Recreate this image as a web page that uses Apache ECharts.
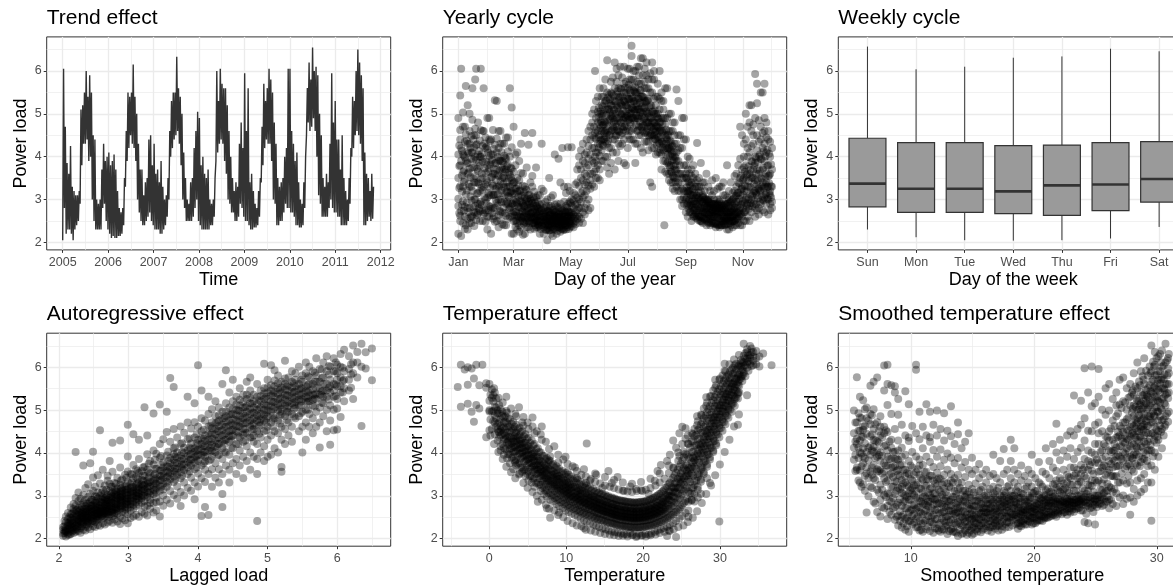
<!DOCTYPE html>
<html><head><meta charset="utf-8">
<script src="https://cdn.jsdelivr.net/npm/echarts@6/dist/echarts.min.js"></script>
<style>html,body{margin:0;padding:0;background:#fff}#c{width:1173px;height:587px}</style>
</head><body><div id="c"></div>
<script>
// ---------------- DATA ----------------
// Trend effect: fortnightly low / high of the daily load, from 2005-01-01
const trendStartYear = 2005;
const trendStepDays = 14;
const trendLow = [
2.05,2.8,2.2,2.3,2.3,2.2,2.05,2.3,2.4,2.5,2.9,3.8,4.3,4.3,4.4,3.9,4.0,3.0,2.5,2.3,2.3,2.3,2.3,2.8,2.9,2.5,
2.3,2.2,2.1,2.15,2.1,2.1,2.15,2.15,2.2,2.4,3.3,3.9,4.2,4.5,4.3,4.2,3.9,3.0,2.7,2.5,2.4,2.4,2.5,2.6,2.7,2.5,
2.4,2.3,2.3,2.3,2.2,2.2,2.3,2.4,2.6,3.0,4.0,4.2,4.4,4.5,4.6,4.3,3.8,3.0,2.8,2.5,2.5,2.5,2.5,2.6,2.8,3.0,
2.5,2.4,2.3,2.3,2.3,2.3,2.3,2.4,2.4,2.6,3.9,4.1,4.3,4.4,4.3,3.9,3.6,3.0,2.9,2.7,2.7,2.5,2.5,2.6,2.9,2.8,
2.6,2.5,2.5,2.4,2.3,2.3,2.35,2.35,2.4,2.6,3.4,3.8,4.2,4.4,4.3,4.3,3.9,3.0,2.9,2.4,2.4,2.5,2.5,2.7,2.9,2.8,
2.8,2.7,2.7,2.6,2.4,2.4,2.35,2.35,2.4,2.8,4.5,4.8,4.6,4.7,4.9,4.6,4.0,3.1,2.9,2.6,2.6,2.6,2.6,2.8,3.0,2.8,
2.7,2.7,2.6,2.6,2.4,2.4,2.4,2.4,2.5,2.9,4.0,4.2,4.5,4.6,4.5,4.3,3.9,2.4,2.4,2.5,2.6,2.5,2.55
];
const trendHigh = [
6.05,4.7,3.85,3.6,4.25,3.3,3.2,3.1,3.1,3.2,5.1,5.2,5.5,6.0,5.4,5.9,5.5,4.5,4.4,3.0,2.9,3.0,3.7,4.3,3.9,4.0,
4.1,3.8,3.9,4.05,3.7,3.2,2.8,2.7,2.8,3.5,4.6,5.5,5.4,5.5,6.15,5.4,5.0,4.3,3.7,3.7,3.1,3.4,3.5,4.4,4.5,3.8,
4.3,3.6,3.7,3.4,3.9,3.3,3.0,3.1,3.5,4.6,5.3,5.5,5.5,6.33,5.6,5.4,5.0,4.1,3.5,3.0,2.9,3.4,3.5,4.2,4.6,5.05,
4.9,3.8,4.0,3.6,3.5,3.7,3.0,2.9,3.0,3.5,6.0,5.3,6.05,5.7,5.6,5.6,5.2,4.6,4.0,3.5,3.2,3.4,3.3,4.3,4.8,4.2,
5.95,4.6,5.6,3.4,3.6,3.2,2.9,2.8,3.2,3.5,4.7,5.7,5.3,5.6,6.05,5.8,5.5,4.8,4.3,3.5,3.3,3.4,3.5,4.0,4.2,6.05,
6.05,4.6,4.3,3.9,4.1,3.4,3.0,2.9,3.4,4.0,5.6,6.2,5.8,6.55,6.0,6.1,5.9,5.0,4.5,3.5,3.3,3.6,3.4,4.3,5.95,4.8,
5.3,4.4,4.4,3.7,4.5,3.5,3.2,3.0,3.5,4.2,5.4,5.3,6.0,6.5,6.2,5.9,5.6,4.1,3.6,3.5,3.2,3.6,3.3
];

// Yearly cycle: [day of year, [loads...]]
const yearlyColumns = [
[1,[2.85,3.5,4.9,2.2,4.05,3.02]],[3,[5.43,2.5,4.4,3.8,2.62,3.31,4.62]],[4,[6.05,2.15,3.9,2.73,4.2]],[6,[4.05,3.3,2.45,4.7,2.96,3.64,5.03]],
[8,[4.7,2.6,3.47,2.31,3.98,4.35,2.83]],[9,[5.65,3.9,2.4,3.12,4.52]],[11,[5.2,3.6,2.3,4.3,2.8,3.85,4.12,2.55]],[13,[4.3,2.8,5.0,3.3,2.45,3.72,4.6]],
[15,[3.3,2.45,4.1,2.62,3.95,4.48,2.98]],[16,[5.6,4.1,2.6,3.75,3.2,4.86]],[18,[3.75,3.0,4.5,2.7,3.4,2.38,4.22]],[19,[5.8,3.0,4.0,3.55,2.85,4.65]],
[20,[6.05,4.5,2.7,3.4,3.92,2.52,4.27]],[22,[3.4,4.8,2.9,3.15,4.05,2.68,3.66]],[24,[2.9,4.0,3.2,2.5,4.38,3.78,2.73]],[25,[6.05,4.0,3.48,4.62,2.95]],
[27,[2.5,3.5,4.6,2.75,3.88,3.22,4.25]],[28,[5.6,4.6,3.3,2.66,3.95]],[30,[2.75,4.2,3.0,3.62,4.45,2.48,3.35]],[32,[2.3,3.8,4.9,2.6,3.4,4.18,3.05]],
[34,[4.9,2.6,4.4,3.1,3.72,2.85,4.02]],[36,[4.4,2.2,3.1,4.05,3.52,2.78,3.88]],[38,[3.1,4.05,2.8,3.6,4.62,2.55,3.32]],[40,[5.32,2.8,3.6,4.28,3.12,2.48,3.84]],
[42,[5.3,2.5,4.1,3.3,3.7,2.92,4.42]],[44,[3.3,2.35,4.6,3.0,3.9,2.64,4.2,3.55]],[46,[4.6,3.0,3.9,2.7,4.3,3.42,2.52]],[48,[3.9,2.7,4.3,3.5,3.15,2.42,3.7]],
[50,[4.3,3.5,2.4,3.7,2.95,4.02,3.28]],[52,[2.4,3.7,4.45,2.9,3.3,2.62,3.95]],[54,[4.45,2.9,3.3,3.82,2.55,3.08,4.12]],[56,[3.3,5.6,4.0,2.6,3.58,2.8,3.15]],
[58,[2.6,5.15,3.2,2.2,3.45,2.9,4.22,3.72]],[60,[2.2,4.7,3.4,2.5,2.98,3.65,2.72]],[62,[2.5,3.0,3.8,2.7,3.25,2.36,4.05]],[64,[2.3,3.5,4.1,2.9,2.62,3.18,2.45]],
[66,[2.4,3.2,2.6,3.9,2.82,3.45,2.25]],[68,[4.3,2.8,2.35,3.1,2.58,3.62,2.95]],[70,[2.6,3.6,2.5,2.9,3.32,2.72,2.18]],[72,[2.2,4.55,3.3,2.7,2.48,3.05,2.85]],
[74,[2.45,3.0,2.6,3.75,2.35,3.22,2.78]],[76,[2.35,2.8,2.5,3.1,2.65,4.28,2.95]],[78,[2.6,3.4,2.3,2.82,2.5,3.02,2.68]],[80,[4.55,3.3,2.7,2.45,2.92,2.58,3.55]],
[82,[2.45,3.0,2.6,2.32,2.78,3.18,2.52]],[84,[2.6,3.75,2.35,2.85,2.5,2.68,3.05]],[86,[2.35,2.8,2.5,3.1,2.62,2.42,2.95]],[88,[2.5,3.1,2.2,2.72,2.58,2.38,2.88]],
[90,[4.3,2.6,2.4,2.9,2.52,2.75,3.25]],[92,[2.6,2.2,3.2,2.45,2.8,2.35,2.68]],[94,[2.5,2.75,2.3,2.62,2.42,2.95,2.55]],[96,[2.3,2.05,3.0,2.55,2.72,2.4,2.48]],
[98,[2.55,2.4,2.7,3.5,2.28,2.62,2.85]],[100,[2.2,2.5,2.85,2.35,2.66,2.45,3.05]],[102,[2.6,2.15,3.1,2.45,2.52,2.75,2.3]],[104,[4.05,2.7,2.3,2.55,2.42,2.88,2.62]],
[106,[2.9,2.2,2.45,2.6,2.35,2.72,2.5]],[108,[3.95,2.65,2.35,2.8,2.5,2.42,2.58]],[110,[2.5,3.4,2.25,2.6,2.72,2.38,2.9]],[112,[2.6,4.2,2.4,2.75,2.52,2.32,2.65]],
[114,[2.75,3.3,2.5,2.3,2.6,2.95,2.44]],[116,[2.5,2.3,2.6,2.85,2.4,3.15,2.7]],[118,[4.22,2.6,2.4,2.9,2.55,2.72,3.3]],[120,[3.2,2.35,2.7,2.5,2.62,2.95,2.45]],
[122,[2.5,3.0,2.6,2.38,2.85,2.7,4.22]],[124,[2.45,2.8,2.65,3.15,2.55,2.98,2.35]],[126,[2.6,3.1,2.7,2.5,2.88,3.35,2.42]],[128,[2.75,3.4,2.55,3.05,2.62,2.9,3.7]],
[130,[2.6,3.0,3.8,2.45,3.32,2.8,4.0]],[132,[2.8,3.5,2.55,3.15,2.95,3.7,4.15]],[134,[2.45,3.2,3.9,2.7,3.45,3.05,4.3]],[136,[3.6,3.1,2.8,4.05,3.35,2.65,3.85]],
[138,[4.1,3.4,2.9,3.75,3.2,4.4,3.55]],[140,[4.6,3.0,3.8,3.32,3.95,4.25,2.75]],[142,[4.4,2.8,3.6,4.05,3.45,4.7,3.25]],[144,[5.0,3.6,4.2,3.9,4.5,3.35,4.8]],
[146,[4.2,3.3,4.7,3.85,4.45,5.1,3.65]],[147,[6.0,4.55,4.0]],[148,[3.9,5.3,4.1,3.5,4.42,3.72,4.62,4.9]],[150,[4.1,3.5,4.8,5.4,4.3,3.8,4.6,5.05]],
[152,[3.7,5.6,4.3,5.0,3.45,4.5,4.02,4.75]],[154,[5.0,4.6,5.4,3.9,4.4,4.8,4.15,5.2]],[156,[4.6,5.4,3.9,4.4,5.0,4.25,4.75,5.6]],[158,[5.8,4.8,4.0,5.1,4.35,4.6,5.3]],
[160,[6.25,4.8,4.0,5.1,4.55,5.5,4.3,3.75]],[162,[5.1,3.6,4.5,5.45,4.85,4.2,5.25]],[164,[5.5,4.2,4.95,3.85,5.2,4.6,5.75]],[166,[5.0,4.7,5.3,4.4,5.85,4.1,4.9]],
[168,[6.2,5.3,4.4,3.7,5.6,4.85,5.1,4.6]],[170,[4.9,4.1,5.2,5.75,4.5,5.45,4.7,6.05]],[172,[5.9,4.6,3.9,5.4,4.3,5.05,5.6]],[174,[5.0,5.6,4.5,5.25,4.8,6.1,4.25,5.4]],
[176,[5.4,4.3,5.0,5.85,4.7,5.2,4.55]],[178,[6.1,4.7,5.5,4.9,5.3,3.85,5.7,4.4]],[180,[5.5,3.8,4.9,5.2,4.6,5.75,5.05]],[182,[5.2,4.5,6.05,5.6,4.2,4.85,5.35,4.95]],
[184,[6.05,5.0,4.6,5.8,4.4,5.35,4.8,5.55]],[186,[6.59,5.0,4.6,5.8,6.35,4.4,5.35,4.9,5.15]],[188,[5.8,4.4,5.3,6.0,4.9,5.55,4.65,5.1]],[190,[5.3,6.0,3.85,4.9,5.5,4.3,5.62,5.1]],
[192,[4.9,5.5,4.3,6.1,5.1,4.6,5.75,5.25]],[194,[6.1,5.1,4.7,5.7,4.5,5.35,4.95,5.9]],[196,[4.7,5.7,4.5,6.3,5.4,4.2,5.05,5.55]],[198,[6.3,5.4,4.1,5.0,5.9,4.6,5.25,4.75]],
[200,[5.3,4.35,5.6,4.9,5.15,5.75,4.55,6.05]],[202,[5.9,4.6,5.3,4.35,5.6,4.8,5.05,6.2]],[204,[4.35,5.6,5.0,4.5,5.35,4.15,5.8,4.8]],[206,[3.4,4.9,5.2,4.5,5.5,4.7,5.95]],
[208,[6.2,4.5,3.3,5.5,4.8,4.2,5.8,5.05]],[210,[4.8,4.2,5.8,5.0,4.5,5.35,4.65,6.0]],[212,[5.0,4.4,5.4,4.7,4.05,5.2,4.6]],[214,[5.4,4.7,4.1,5.0,4.45,5.7,4.9]],
[216,[6.0,4.1,5.1,4.6,4.3,5.35,4.8]],[218,[4.6,3.7,5.3,4.35,4.9,4.05,5.5]],[220,[5.3,4.3,4.9,3.9,4.6,5.1,4.15]],[221,[2.4]],
[222,[4.9,3.9,5.6,4.5,4.2,4.75,3.65]],[224,[5.6,4.5,3.6,4.2,4.9,3.85,4.4]],[226,[3.6,4.2,5.0,3.8,4.6,3.45,4.35]],[228,[5.0,3.8,4.6,3.4,4.15,3.65,4.35]],
[230,[4.6,3.4,4.0,4.8,3.55,4.25,3.25]],[232,[4.0,4.8,3.5,4.3,3.7,3.2,4.5]],[234,[4.3,5.57,3.7,4.1,3.3,3.9,3.5]],[236,[5.3,3.9,4.5,3.2,3.6,4.15,3.4]],
[238,[4.5,3.2,3.6,4.2,3.0,3.8,3.35]],[240,[3.6,4.2,3.0,3.5,4.9,3.25,2.85]],[242,[3.5,4.9,2.9,3.8,3.2,4.4,3.05]],[244,[3.8,3.2,4.4,2.7,3.5,3.0,3.6]],
[246,[3.2,4.0,2.6,3.4,3.7,2.9,3.15]],[248,[3.6,3.0,2.85,3.35,3.95,2.7,3.2]],[250,[2.85,3.7,2.5,3.1,3.4,2.95,3.55]],[252,[3.1,2.75,3.5,2.9,3.25,2.6,3.8]],
[254,[3.4,2.9,3.3,2.65,3.05,3.6,2.8]],[256,[4.32,3.1,2.75,3.3,2.95,2.6,3.45]],[258,[2.9,3.3,2.6,3.05,3.5,2.75,3.15]],[260,[3.3,2.6,3.85,2.8,3.0,2.5,3.2]],
[262,[2.8,3.1,2.45,2.95,3.4,2.7,3.05]],[264,[3.4,2.7,3.0,2.55,2.85,3.2,2.65]],[266,[2.7,3.0,2.55,3.6,2.9,2.4,2.8]],[268,[3.0,2.55,2.85,3.3,2.65,2.95,2.45]],
[270,[2.55,2.85,3.2,2.7,2.4,3.0,2.8]],[272,[2.9,2.6,3.45,2.75,2.5,3.1,2.7]],[274,[2.7,3.2,2.45,2.9,2.6,2.8,3.0]],[276,[2.45,2.9,2.65,3.5,2.75,2.35,2.85]],
[278,[2.9,2.6,3.0,2.7,2.4,3.25,2.8]],[280,[3.0,2.35,2.8,2.55,3.3,2.7,2.95]],[282,[2.8,3.3,2.5,2.75,2.9,2.4,2.65]],[284,[2.5,2.75,3.1,2.6,2.85,2.45,3.4]],
[286,[2.75,3.1,2.4,2.9,2.6,2.8,2.5]],[288,[3.8,2.6,2.9,2.3,2.7,3.05,2.55]],[290,[2.3,3.0,2.7,2.85,2.5,2.65,3.2]],[292,[2.7,3.4,2.5,2.95,2.4,2.8,2.6]],
[294,[2.5,2.85,3.15,2.35,2.7,2.6,3.0]],[296,[3.2,2.65,2.5,2.9,3.55,2.4,2.8]],[298,[3.6,2.4,2.95,2.7,3.3,2.55,3.1]],[300,[2.95,3.4,2.55,3.8,2.7,3.15,2.45]],
[302,[4.7,3.1,2.8,2.4,3.5,2.65,3.95]],[304,[3.3,2.6,3.7,4.5,2.9,2.4,3.25]],[306,[3.5,4.0,2.7,3.2,2.5,3.75,4.3]],[308,[4.4,2.5,3.8,5.0,3.0,3.45,2.75]],
[310,[4.2,2.6,3.6,2.9,3.3,4.0,4.7]],[312,[4.8,3.3,2.5,4.1,3.6,2.85,5.2]],[314,[5.2,3.0,3.9,4.6,2.7,3.5,4.25]],[316,[4.5,3.5,4.3,2.9,3.7,4.75,3.15]],
[318,[5.93,4.9,2.6,3.2,4.0,3.45,2.8,3.85]],[320,[5.7,5.25,3.1,4.5,3.7,2.75,4.15,3.35]],[322,[4.0,2.8,3.6,4.85,3.25,2.65,4.35]],[324,[5.5,3.5,4.4,2.9,3.95,3.2,4.7]],
[326,[5.5,4.2,3.0,3.7,2.75,4.55,3.4]],[328,[5.7,4.6,2.7,3.9,3.3,4.3,3.05,4.9]],[330,[4.8,3.4,4.1,2.9,3.6,4.45,3.15]],[332,[4.4,3.0,3.8,2.65,4.6,3.3,3.55]],
[334,[3.2,4.0,2.9,3.6,4.35,3.1,2.75]],[336,[2.8,4.2,3.3,3.7,2.95]]
];
const yearlyColumnsB = [
[2,[3.27,3.78,2.68,4.26]],[5,[3.56,2.88,4.14,3.19]],[7,[4.02,3.41,2.74,3.67]],[10,[3.21,4.37,2.93,3.84]],[12,[3.63,2.71,4.08,3.36]],
[14,[4.21,3.07,3.52,2.58]],[17,[3.49,3.93,2.82,4.4]],[21,[3.14,3.72,4.29,2.64]],[23,[3.86,2.79,3.37,4.13]],[26,[3.28,4.06,2.87,3.61]],
[29,[3.73,3.05,4.31,2.69]],[31,[3.45,2.92,3.88,4.24]],[33,[3.16,3.64,2.75,4.09]],[35,[3.82,3.27,4.36,2.83]],[37,[3.37,2.68,3.93,3.54]],
[39,[3.72,3.11,4.18,2.61]],[41,[3.25,3.85,2.97,3.46]],[43,[3.58,2.86,3.99,3.12]],[45,[3.92,3.33,2.73,3.68]],[47,[3.21,3.74,2.94,4.11]],
[49,[3.53,2.81,3.36,3.86]],[51,[3.12,3.64,2.68,3.97]],[53,[3.41,2.95,3.78,3.18]],[55,[3.63,3.06,2.77,3.49]],[57,[3.18,2.83,3.52,3.74]],
[59,[2.91,3.36,2.68,3.14]],[61,[2.87,3.14,2.63,3.41]],[63,[2.71,3.26,2.94,2.52]],[65,[3.07,2.58,2.83,3.33]],[67,[2.66,2.98,3.21,2.49]],
[69,[2.92,2.73,3.08,2.56]],[71,[2.61,3.17,2.84,2.44]],[73,[2.96,2.68,2.52,3.24]],[75,[2.74,3.03,2.57,2.88]],[77,[2.63,2.91,2.46,3.12]],
[79,[2.82,2.58,2.97,2.68]],[81,[2.69,2.45,2.86,3.06]],[83,[2.55,2.77,2.4,2.93]],[85,[2.71,2.51,2.84,2.62]],[87,[2.46,2.67,2.78,2.39]],
[89,[2.47,2.63,2.31,2.79]],[93,[2.52,2.38,2.71,2.59]],[95,[2.66,2.29,2.47,2.84]],[97,[2.41,2.57,2.73,2.34]],[99,[2.63,2.49,2.28,2.8]],
[101,[2.37,2.69,2.54,2.45]],[103,[2.58,2.33,2.76,2.64]],[105,[2.46,2.71,2.39,2.56]],[107,[2.61,2.27,2.5,2.83]],[109,[2.43,2.66,2.58,2.35]],
[111,[2.55,2.32,2.79,2.47]],[113,[2.68,2.44,2.53,2.29]],[115,[2.39,2.61,2.72,2.5]],[117,[2.57,2.36,2.46,2.81]],[119,[2.48,2.7,2.31,2.62]],
[121,[2.66,2.43,2.55,2.92]],[151,[4.46,4.92,4.21,5.14]],[153,[4.67,5.06,4.38,4.84]],[155,[4.73,4.28,5.17,4.95]],[157,[4.55,5.24,4.82,4.41]],
[159,[4.97,4.63,5.31,4.46]],[161,[4.71,5.12,4.36,5.38]],[163,[4.88,5.34,4.52,5.03]],[165,[4.62,5.19,4.94,5.47]],[167,[5.09,4.67,5.42,4.81]],
[169,[4.76,5.28,5.01,4.49]],[171,[5.14,4.83,5.53,4.62]],[173,[4.91,5.37,4.58,5.18]],[175,[5.22,4.79,5.58,4.98]],[177,[4.86,5.31,5.07,4.63]],
[179,[5.27,4.92,5.61,4.71]],[181,[4.97,5.43,5.16,4.68]],[183,[5.34,4.86,5.68,5.11]],[185,[5.02,5.49,4.77,5.26]],[187,[5.38,4.91,5.64,5.13]],
[189,[5.07,5.52,4.83,5.29]],[191,[5.18,4.74,5.47,4.96]],[193,[4.89,5.36,5.12,4.61]],[195,[5.26,4.82,5.55,5.03]],[197,[4.93,5.41,4.68,5.17]],
[199,[5.13,4.72,5.39,4.88]],[201,[4.84,5.27,4.57,5.06]],[203,[5.02,4.66,5.31,4.79]],[205,[4.71,5.16,4.47,4.94]],[207,[4.91,4.53,5.19,4.69]],
[209,[4.62,5.05,4.38,4.83]],[211,[4.79,4.41,5.08,4.57]],[213,[4.51,4.93,4.27,4.72]],[215,[4.68,4.33,4.89,4.46]],[217,[4.41,4.81,4.16,4.62]],
[219,[4.57,4.22,4.76,4.35]],[223,[4.31,4.63,4.04,4.45]],[225,[4.19,3.88,4.51,4.06]],[227,[4.02,4.37,3.76,4.18]],[229,[3.91,4.24,3.63,4.06]],
[231,[3.79,4.11,3.52,3.93]],[233,[3.67,3.98,3.41,3.81]],[245,[3.28,3.05,3.51,2.87]],[247,[3.19,2.96,3.42,2.78]],[249,[3.11,2.88,3.33,2.71]],
[251,[3.02,2.81,3.24,2.66]],[253,[2.96,2.75,3.16,2.61]],[255,[2.89,2.69,3.09,2.57]],[257,[2.84,2.64,3.03,2.53]],[259,[2.79,2.61,2.98,2.5]],
[261,[2.75,2.58,2.94,2.48]],[263,[2.91,2.55,2.72,3.06]],[265,[2.69,2.86,2.52,3.01]],[267,[2.83,2.66,2.49,2.97]],[269,[2.64,2.8,2.47,2.93]],
[271,[2.78,2.62,2.45,2.91]],[273,[2.61,2.76,2.44,2.89]],[275,[2.75,2.59,2.43,2.88]],[277,[2.58,2.74,2.42,2.87]],[279,[2.73,2.57,2.41,2.86]],
[281,[2.56,2.72,2.4,2.86]],[283,[2.71,2.56,2.4,2.86]],[285,[2.56,2.71,2.41,2.87]],[287,[2.71,2.55,2.42,2.88]],[289,[2.57,2.72,2.43,2.9]],
[291,[2.73,2.58,2.45,2.93]],[293,[2.6,2.75,2.47,2.97]],[295,[2.77,2.62,2.5,3.02]],[297,[2.66,2.81,2.53,3.08]],[299,[2.85,2.7,2.57,3.15]],
[301,[3.02,2.74,3.38,2.61]],[303,[2.88,3.24,2.67,3.56]],[305,[3.11,2.79,3.47,2.96]],[307,[2.93,3.32,2.71,3.65]],[309,[3.19,2.86,3.58,3.04]],
[311,[3.01,3.43,2.78,3.77]],[313,[3.28,2.92,3.69,3.12]],[315,[3.09,3.52,2.84,3.88]],[317,[3.36,2.98,3.79,3.19]],[319,[3.15,3.61,2.89,3.97]],
[321,[3.43,3.03,3.87,3.26]],[323,[3.21,3.68,2.94,4.05]],[325,[3.49,3.08,3.94,3.31]],[327,[3.26,3.74,2.98,4.12]],[329,[3.53,3.11,4.01,3.35]],
[331,[3.29,3.78,3.02,4.16]],[333,[3.56,3.14,4.07,3.38]],[335,[3.31,3.82,3.05]]
];

// Weekly cycle box statistics
const weekDays = ['Sun','Mon','Tue','Wed','Thu','Fri','Sat'];
const boxMin    = [2.30,2.12,2.05,2.04,2.05,2.09,2.36];
const boxQ1     = [2.83,2.70,2.70,2.67,2.63,2.74,2.94];
const boxMedian = [3.37,3.25,3.25,3.19,3.33,3.35,3.48];
const boxQ3     = [4.43,4.33,4.33,4.26,4.27,4.33,4.35];
const boxMax    = [6.57,6.04,6.10,6.31,6.34,6.52,6.46];

// Autoregressive effect: [lagged load, [loads...]]
const arColumns = [
[2.06,[2.07,2.12,2.21,2.27]],[2.1,[2.05,2.16,2.24,2.38,2.52,2.19]],[2.13,[2.09,2.22,2.31,2.46,2.6,2.14,2.36]],
[2.17,[2.11,2.19,2.28,2.41,2.57,2.73,2.33,2.49]],[2.21,[2.13,2.26,2.35,2.44,2.62,2.81,2.2,2.52,2.69]],
[2.24,[2.16,2.23,2.39,2.5,2.58,2.77,2.95,4.02,2.31,2.66]],[2.28,[2.18,2.29,2.37,2.46,2.63,2.71,2.88,3.08,2.55,2.42]],
[2.31,[2.14,2.25,2.4,2.53,2.6,2.79,2.93,2.34,2.67,2.48]],[2.35,[2.21,2.33,2.45,2.57,2.68,2.84,3.02,3.71,2.5,2.39,2.62]],
[2.38,[2.19,2.28,2.43,2.55,2.64,2.76,2.9,3.18,2.49,2.7]],[2.42,[2.26,2.37,2.48,2.59,2.73,2.82,2.97,3.27,2.53,2.66,2.41]],
[2.45,[2.22,2.35,2.51,2.62,2.69,2.86,3.05,3.76,2.44,2.77,2.58]],[2.49,[2.29,2.41,2.55,2.64,2.78,2.91,3.12,3.43,4.03,2.47,2.71]],
[2.52,[2.27,2.39,2.47,2.6,2.74,2.83,2.99,3.21,2.56,2.68,2.88]],[2.56,[2.32,2.44,2.57,2.66,2.8,2.94,3.08,3.48,2.52,2.72,2.61]],
[2.59,[2.3,2.49,2.61,2.7,2.85,3.01,3.29,4.53,2.57,2.77,2.66]],[2.63,[2.36,2.47,2.58,2.73,2.83,2.97,3.14,3.61,2.65,2.9,2.54]],
[2.66,[2.33,2.52,2.64,2.76,2.88,3.06,3.24,2.7,2.59,2.81,2.95]],[2.7,[2.38,2.5,2.62,2.79,2.9,3.02,3.35,3.47,2.68,2.74,2.86,2.57]],
[2.73,[2.42,2.56,2.69,2.82,2.96,3.11,3.28,2.63,2.77,2.89,3.81]],[2.77,[2.37,2.53,2.67,2.84,2.93,3.08,3.21,3.56,2.72,2.99,2.61,4.24]],
[2.8,[2.45,2.6,2.73,2.81,2.97,3.13,3.3,2.68,2.88,3.04,2.55]],[2.84,[2.4,2.58,2.71,2.87,3.0,3.17,3.42,2.79,2.93,2.65,3.09]],
[2.88,[2.34,2.52,2.69,2.83,2.95,3.1,3.26,3.66,4.29,2.76,3.02,2.9]],[2.91,[2.47,2.63,2.78,2.92,3.04,3.19,3.38,2.71,2.86,2.99,3.12]],
[2.95,[2.43,2.61,2.74,2.89,3.06,3.22,3.49,2.8,2.96,3.14,2.68]],[2.99,[2.36,2.57,2.72,2.86,3.01,3.16,3.33,3.57,3.92,4.66,2.93,3.08,2.79]],
[3.03,[2.48,2.66,2.81,2.94,3.09,3.27,3.51,2.74,3.03,3.18,2.89]],[3.07,[2.52,2.7,2.87,3.05,3.2,3.41,3.72,2.96,3.12,2.79,4.44]],
[3.11,[2.56,2.76,2.93,3.07,3.25,3.44,3.62,2.85,3.15,3.0]],[3.15,[2.51,2.79,2.98,3.13,3.31,3.53,3.86,4.31,2.9,3.21,3.05]],
[3.19,[2.62,2.84,3.02,3.19,3.37,3.58,2.95,3.11,3.27]],[3.23,[2.58,2.88,3.07,3.26,3.46,3.68,5.07,3.0,3.16,2.75]],
[3.27,[2.54,2.77,2.97,3.18,3.36,3.61,3.97,4.41,3.09,3.28]],[3.31,[2.7,2.91,3.1,3.32,3.52,3.81,3.02,3.22,2.83]],
[3.36,[2.61,2.83,3.04,3.24,3.47,3.73,4.06,4.92,3.14,3.35]],[3.4,[2.66,2.96,3.19,3.41,3.63,3.98,3.08,3.29,2.85]],
[3.45,[2.52,2.87,3.12,3.36,3.59,3.89,4.21,5.13,3.24,3.47]],[3.5,[2.77,3.01,3.29,3.53,3.78,4.32,3.15,3.42,3.66]],
[3.55,[2.91,3.21,3.44,3.69,3.94,4.49,4.96,3.33,3.58]],[3.6,[2.82,3.11,3.39,3.64,3.88,4.26,5.75,3.52,3.76]],
[3.65,[3.02,3.32,3.58,3.84,4.11,4.56,5.54,3.45,3.71,3.97]],[3.7,[2.93,3.22,3.49,3.76,4.01,4.36,3.63,3.89]],
[3.75,[3.09,3.41,3.68,3.94,4.21,4.62,2.76,3.55,3.81]],[3.8,[3.01,3.31,3.6,3.86,4.12,4.47,3.73,4.0]],
[3.85,[3.19,3.51,3.79,4.06,4.32,4.71,5.31,3.66,3.93]],[3.9,[3.12,3.42,3.71,3.97,4.22,4.57,3.85,4.1]],
[3.95,[2.92,3.31,3.62,3.9,4.11,4.36,4.72,5.16,3.78,4.03]],[4.0,[3.22,3.52,3.81,4.07,4.31,4.61,6.05,3.95,4.19]],
[4.05,[2.53,3.41,3.71,3.96,4.21,4.51,4.81,5.46,4.09,4.34]],[4.1,[2.74,3.32,3.61,3.91,4.16,4.41,4.76,4.02,4.28,3.8]],
[4.15,[2.55,3.51,3.82,4.06,4.31,4.62,4.91,5.31,4.19,4.45]],[4.2,[3.21,3.62,3.92,4.19,4.46,4.71,5.02,4.33,4.58,4.05]],
[4.25,[3.42,3.76,4.02,4.29,4.56,4.86,5.21,4.43,4.69,4.15]],[4.3,[3.31,3.62,3.96,4.21,4.51,4.76,5.06,4.36,4.63,4.88]],
[4.35,[2.74,3.04,3.51,3.86,4.11,4.41,4.66,4.96,5.61,4.27,4.53,4.8]],[4.4,[3.71,4.01,4.31,4.61,4.86,5.16,5.93,4.46,4.73,4.97]],
[4.45,[3.31,3.61,3.96,4.26,4.51,4.76,5.06,5.41,4.39,4.64,4.89]],[4.5,[3.76,4.11,4.41,4.66,4.91,5.21,5.71,4.54,4.79,5.03]],
[4.55,[3.51,3.86,4.21,4.51,4.76,5.01,5.31,4.63,4.88,5.13]],[4.6,[3.71,4.06,4.36,4.61,4.86,5.11,5.51,4.73,4.98,5.24]],
[4.65,[3.41,3.91,4.26,4.56,4.81,5.06,5.36,4.69,4.93,5.19,4.43]],[4.7,[3.81,4.16,4.46,4.71,4.96,5.26,5.66,4.83,5.09,5.36]],
[4.75,[3.61,4.01,4.36,4.61,4.91,5.16,5.46,5.76,4.76,5.03,5.29]],[4.8,[3.91,4.26,4.56,4.81,5.06,5.36,4.69,4.94,5.21,4.41]],
[4.85,[2.41,3.51,3.86,4.21,4.51,4.76,5.01,5.31,5.61,4.88,5.14]],[4.9,[4.01,4.36,4.66,4.91,5.21,5.46,4.79,5.06,5.33]],
[4.95,[3.81,4.16,4.51,4.76,5.01,5.26,5.51,6.08,4.89,5.14,5.39]],[5.0,[3.91,4.31,4.61,4.86,5.11,5.41,5.71,4.99,5.26,5.53]],
[5.05,[3.96,4.41,4.71,4.96,5.21,5.46,6.05,5.09,5.34,5.58]],[5.1,[4.11,4.51,4.81,5.06,5.31,5.56,5.93,5.19,5.43,5.69]],
[5.15,[4.01,4.46,4.76,5.01,5.26,5.51,5.81,5.14,5.38,5.63]],[5.2,[3.56,3.67,4.31,4.61,4.91,5.16,5.41,5.66,5.03,5.29,5.53]],
[5.25,[4.21,4.56,4.86,5.11,5.36,5.61,6.15,5.24,5.48,5.74]],[5.3,[4.41,4.71,4.96,5.21,5.46,5.76,5.09,5.34,5.58]],
[5.35,[4.26,4.61,4.91,5.16,5.41,5.66,5.91,5.29,5.53]],[5.4,[4.81,5.06,5.31,5.56,5.86,5.19,5.44,5.71]],
[5.45,[4.51,4.86,5.11,5.36,5.61,6.01,5.24,5.49]],[5.5,[4.01,4.61,4.96,5.26,5.51,5.81,5.39,5.66]],
[5.55,[4.31,4.71,5.01,5.31,5.56,5.86,6.11,5.19,5.44]],[5.6,[4.61,4.91,5.21,5.46,5.76,6.01,5.34,5.61]],
[5.65,[4.46,4.81,5.11,5.36,5.61,5.91,5.24,5.49]],[5.7,[4.61,4.96,5.26,5.51,5.81,6.21,5.39,5.66]],
[5.75,[4.13,4.71,5.06,5.36,5.66,5.96,5.51]],[5.8,[4.86,5.16,5.46,5.76,6.11,5.31,5.61]],
[5.85,[4.51,5.01,5.31,5.61,5.91,6.26,5.46]],[5.9,[4.19,4.76,5.11,5.41,5.71,6.01,5.56]],
[5.95,[4.53,5.01,5.31,5.61,5.91,6.21,5.46]],[6.0,[4.55,5.04,5.26,5.56,5.86,6.06,5.71]],
[6.05,[4.84,5.41,5.76,6.01,6.31,5.56]],[6.1,[5.21,5.51,5.91,6.41,5.71]],[6.17,[5.46,5.71,5.96,6.26]],
[6.23,[5.26,5.86,6.51,6.11]],[6.29,[5.76,6.11,6.36]],[6.35,[4.63,6.55,6.01]],[6.41,[5.97,6.35]],[6.5,[6.44,5.7]]
];
const arColumnsB = [
[2.08,[2.13,2.29,2.18,2.41]],[2.15,[2.09,2.37,2.22,2.5,2.31]],[2.19,[2.44,2.17,2.36,2.58,2.26]],[2.26,[2.21,2.53,2.34,2.67,2.45,2.28]],
[2.33,[2.61,2.29,2.49,2.74,2.38,2.56]],[2.4,[2.33,2.69,2.51,2.82,2.44,2.62,2.39]],[2.47,[2.77,2.41,2.6,2.91,2.52,2.69]],
[2.54,[2.45,2.84,2.66,2.98,2.57,2.76,2.52]],[2.61,[2.92,2.53,2.73,3.07,2.64,2.84]],[2.68,[2.58,2.97,2.79,3.14,2.7,2.9,2.63]],
[2.75,[3.04,2.64,2.85,3.21,2.76,2.96]],[2.82,[2.69,3.1,2.91,3.28,2.82,3.02,2.74]],[2.89,[3.17,2.75,2.97,3.35,2.88,3.08]],
[2.97,[2.81,3.23,3.03,3.42,2.94,3.14,2.86]],[3.05,[3.31,2.87,3.1,3.5,3.01,3.21]],[3.13,[2.94,3.39,3.17,3.58,3.08,3.28,2.99]],
[3.21,[3.47,3.0,3.24,3.66,3.15,3.35]],[3.29,[3.07,3.55,3.31,3.75,3.22,3.43]],[3.38,[3.63,3.13,3.38,3.84,3.29,3.51]],
[3.47,[3.21,3.72,3.46,3.93,3.37,3.59]],[3.57,[3.82,3.29,3.55,4.03,3.46,3.68]],[3.67,[3.38,3.92,3.64,4.13,3.55,3.77]],
[3.77,[4.02,3.47,3.73,4.23,3.64,3.86]],[3.88,[3.57,4.13,3.84,4.34,3.75,3.97]],[3.98,[4.23,3.66,3.93,4.44,3.84,4.06]],
[4.08,[3.76,4.33,4.03,4.54,3.94,4.16]],[4.18,[4.43,3.85,4.12,4.63,4.03,4.26]],[4.28,[3.94,4.52,4.21,4.72,4.12,4.35]],
[4.38,[4.61,4.03,4.3,4.81,4.21,4.44]],[4.48,[4.12,4.7,4.39,4.9,4.3,4.53]],[4.58,[4.79,4.21,4.48,4.99,4.39,4.62]],
[4.68,[4.29,4.87,4.56,5.07,4.47,4.7]],[4.78,[4.95,4.37,4.64,5.15,4.55,4.78]],[4.88,[4.45,5.03,4.72,5.23,4.63,4.86]],
[4.98,[5.11,4.53,4.8,5.31,4.71,4.94]],[5.08,[4.61,5.19,4.88,5.39,4.79,5.02]],[5.18,[5.27,4.69,4.96,5.47,4.87,5.1]],
[5.28,[4.77,5.35,5.04,5.55,4.95,5.18]],[5.38,[5.43,4.85,5.12,5.63,5.03,5.26]],[5.48,[4.93,5.51,5.2,5.71,5.11,5.34]],
[5.58,[5.59,5.01,5.28,5.79,5.19,5.42]],[5.68,[5.09,5.67,5.36,5.87,5.27]],[5.78,[5.75,5.17,5.44,5.95,5.35]],
[5.88,[5.25,5.83,5.52,6.03]],[5.98,[5.91,5.33,5.6,6.11]],[6.08,[5.41,5.99,5.68]],[6.2,[6.07,5.52,5.83]]
];

// Temperature effect: [temperature, [loads...]]
const tempColumns = [
[-4.1,[5.54]],[-3.7,[6.06,5.08]],[-3.2,[5.95]],[-2.8,[5.15,5.59,6.0]],[-2.3,[5.97,4.96]],[-2.0,[5.74,4.73]],[-1.7,[6.06,5.12]],
[-1.3,[5.58,5.04]],[-0.9,[6.06]],[-0.4,[5.63,4.37,5.52]],[0.02,[4.53,5.0,5.22,4.97,5.61]],[0.33,[5.48,5.29,4.56,4.97]],
[0.71,[5.41,5.08,4.88,4.44,4.71]],[1.08,[4.55,4.93,4.68,4.29,4.99]],[1.47,[4.41,4.79,4.53,4.16,5.02,4.06,4.62]],
[1.89,[4.6,4.31,4.12,4.84,4.47,3.96,4.71]],[2.31,[4.69,4.48,4.24,4.04,3.87,4.94,4.36]],[2.68,[4.38,4.19,4.61,3.96,4.79,3.76,4.09,4.51]],
[3.12,[4.33,4.14,4.56,3.91,4.73,3.62,4.27,4.02]],[3.49,[4.29,4.04,4.48,3.84,4.66,3.71,4.19,4.86,4.37]],[3.93,[4.21,3.99,4.41,3.76,4.59,3.52,4.11,4.31]],
[4.28,[4.12,3.91,4.33,3.66,4.51,3.56,4.02,4.71,4.22]],[4.71,[4.03,3.81,4.24,3.61,4.44,3.46,3.94,4.13]],[5.09,[3.96,3.76,4.16,3.56,4.36,3.36,3.86,4.56,4.07]],
[5.52,[3.87,3.66,4.06,3.46,4.29,3.31,3.76,3.97]],[5.88,[3.81,3.61,4.01,3.41,4.21,3.21,3.71,4.46,3.91]],[6.31,[3.72,3.52,3.91,3.31,4.11,2.86,3.61,3.82]],
[6.69,[3.62,3.46,3.81,3.26,4.01,3.11,3.56,4.43,3.71]],[7.12,[3.57,3.39,3.74,3.21,3.93,3.04,3.48,3.65]],[7.48,[3.52,3.33,3.69,3.14,3.88,2.98,3.41,2.71,3.6]],
[7.91,[3.46,3.26,3.62,3.08,3.81,2.91,2.49,3.92,3.35]],[8.29,[3.41,3.22,3.57,3.03,3.74,2.87,3.31,3.49]],[8.72,[3.36,3.16,3.52,2.98,3.69,2.81,3.25,3.44]],
[9.08,[3.31,3.11,3.46,2.93,3.63,2.76,3.21,2.61,3.39]],[9.53,[3.24,3.06,3.41,2.89,3.58,2.71,3.15,3.31]],[9.91,[3.19,3.01,3.35,2.84,3.53,2.66,3.11,3.91,3.26]],
[10.32,[3.15,2.96,3.31,2.8,3.49,2.62,3.06,3.22]],[10.69,[3.11,2.92,3.27,2.76,3.45,2.58,3.01,3.18]],[11.13,[3.06,2.88,3.22,2.72,3.41,2.55,3.66,2.97]],
[11.52,[3.02,2.84,3.18,2.68,3.37,2.51,2.94,3.1]],[11.88,[2.98,2.8,3.14,2.64,3.32,2.47,2.9,3.05]],[12.31,[2.94,2.76,3.1,2.61,3.27,2.43,2.86,3.62,2.25]],
[12.67,[2.91,2.73,3.07,2.58,3.24,2.4,4.22,2.99,2.82]],[13.09,[2.87,2.69,3.03,2.55,3.2,2.36,2.79,3.36,2.95]],[13.52,[2.83,2.66,2.99,2.52,3.16,2.33,2.75,2.91]],
[13.91,[2.8,2.63,2.96,2.49,3.12,2.3,2.72,3.49,2.87]],[14.28,[2.77,2.6,2.93,2.46,3.08,2.27,2.69,2.84]],[14.71,[2.74,2.58,2.9,2.43,3.05,2.24,2.66,3.18,2.81]],
[15.12,[2.71,2.55,2.87,2.41,3.02,2.22,2.63,2.78]],[15.49,[2.69,2.53,2.84,2.38,2.99,2.19,2.61,3.58,2.76]],[15.93,[2.66,2.51,2.81,2.36,2.96,2.17,2.58,3.3,2.73]],
[16.31,[2.64,2.49,2.79,2.34,2.94,2.15,2.56,2.71]],[16.68,[2.62,2.47,2.77,2.32,2.91,2.14,2.54,3.44,2.69]],[17.11,[2.61,2.45,2.75,2.3,2.89,2.12,2.52,2.67]],
[17.52,[2.59,2.44,2.73,2.29,2.88,2.11,2.51,3.12,2.66]],[17.89,[2.58,2.43,2.72,2.28,2.86,2.1,2.5,2.65]],[18.32,[2.57,2.42,2.71,2.27,2.85,2.13,2.49,3.22,2.64]],
[18.71,[2.56,2.41,2.7,2.26,2.84,2.09,2.48,2.63]],[19.09,[2.56,2.41,2.7,2.26,2.84,2.04,2.48,3.16,2.63]],[19.48,[2.56,2.41,2.7,2.26,2.85,2.12,2.48,2.63]],
[19.91,[2.57,2.42,2.71,2.27,2.86,2.08,2.49,3.11,2.64]],[20.29,[2.58,2.43,2.72,2.28,2.87,2.11,2.5,2.65]],[20.72,[2.6,2.44,2.74,2.29,2.89,2.1,2.52,3.05,2.67]],
[21.09,[2.62,2.46,2.77,2.31,2.92,2.12,2.54,2.69]],[21.52,[2.65,2.49,2.8,2.33,2.96,2.16,2.57,3.35,2.72]],[21.88,[2.68,2.52,2.84,2.36,3.01,2.19,2.6,3.58,2.76]],
[22.31,[2.72,2.55,2.89,2.39,3.06,2.22,2.64,3.72,2.8]],[22.69,[2.77,2.59,2.95,2.43,3.13,2.25,2.68,2.86]],[23.12,[2.83,2.64,3.02,2.47,3.21,2.28,3.81,2.06,2.93]],
[23.48,[2.9,2.7,3.1,2.52,3.3,2.32,3.96,2.18,3.0]],[23.91,[2.99,2.77,3.2,2.57,3.42,2.36,4.29,3.66,3.09]],[24.29,[3.09,2.85,3.31,2.63,3.54,2.41,4.12,2.04,3.2]],
[24.72,[3.2,2.94,3.44,2.7,3.68,2.47,3.93,4.46,3.32]],[25.09,[3.32,3.04,3.58,2.78,3.83,2.53,4.21,4.61,3.45]],[25.52,[3.46,3.16,3.73,2.88,3.98,2.6,4.33,4.58,3.6]],
[25.89,[3.38,3.1,3.65,2.86,3.9,2.66,4.21,2.51,3.52]],[26.31,[3.52,3.19,3.79,2.89,4.02,3.06,4.27,2.91,3.67,4.46]],
[26.68,[3.68,3.35,3.94,3.04,4.17,3.25,4.39,2.87,3.83,4.56]],[27.11,[3.84,3.51,4.09,3.21,4.32,3.44,4.53,3.14,3.99,4.74,2.96]],
[27.52,[4.0,3.68,4.24,3.38,4.47,3.61,4.67,3.33,4.15,4.89,3.05]],[27.89,[4.16,3.85,4.39,3.56,4.61,3.78,4.81,3.51,4.31,5.04,4.0]],
[28.31,[4.32,4.02,4.54,3.73,4.75,3.95,4.95,3.68,4.46,5.18,4.17,3.41]],[28.69,[4.47,4.18,4.69,3.9,4.89,4.11,5.09,3.85,4.62,5.32,4.35,3.3]],
[29.12,[4.62,4.34,4.84,4.06,5.03,4.27,5.23,4.02,4.77,5.46,4.51]],[29.49,[4.76,4.49,4.98,4.22,5.16,4.43,5.36,4.18,4.91,5.58,4.67]],
[29.91,[4.9,4.64,5.12,4.37,5.3,4.58,5.49,2.4,5.05,5.71,4.82]],[30.32,[5.04,4.78,5.25,4.52,5.43,4.73,5.62,5.19,5.81,4.96]],
[30.71,[5.17,4.92,5.38,4.67,5.55,4.87,5.73,5.32,5.09,5.9]],[31.09,[5.3,5.05,5.5,4.82,5.67,5.01,5.83,5.44,5.22]],
[31.52,[5.42,5.18,5.62,4.96,5.78,5.14,5.95,5.55,5.34]],[31.91,[5.54,5.3,5.73,5.1,5.87,5.26,6.05,5.66,5.46]],
[32.33,[5.65,5.42,5.83,5.27,4.66,5.38,6.02,5.77,5.58]],[32.71,[6.01,5.78,6.17,5.74,6.1,5.93]],[33.08,[6.12,5.89,6.27,6.55,5.85,6.03]],
[33.52,[6.2,5.99,6.35,6.42,5.35,6.11]],[33.91,[6.28,6.08,6.5,6.21]],[34.33,[6.36,6.15,6.05,6.25]],[34.71,[6.22,6.38,6.07]],
[35.12,[6.02,6.25]],[35.61,[6.32]],[36.7,[6.05]]
];
const tempColumnsB = [
[0.52,[5.21,4.74,4.98,5.35]],[0.89,[4.62,5.06,4.81,5.27]],[1.28,[4.93,4.49,4.71,5.12,4.36]],[1.68,[4.44,4.87,4.58,4.21,4.96]],
[2.09,[4.73,4.32,4.55,4.09,4.86,4.41]],[2.49,[4.19,4.62,4.38,3.97,4.81,4.27]],[2.91,[4.52,4.11,4.34,3.89,4.68,4.22]],
[3.3,[4.03,4.47,4.26,3.82,4.61,4.14,4.39]],[3.71,[4.38,3.93,4.18,3.75,4.56,4.07]],[4.1,[3.87,4.29,4.11,3.66,4.49,3.99,4.21]],
[4.51,[4.24,3.79,4.05,3.61,4.39,3.92]],[4.9,[3.71,4.17,3.94,3.52,4.33,3.85,4.06]],[5.3,[4.09,3.64,3.88,3.46,4.24,3.77]],
[5.71,[3.56,3.99,3.81,3.39,4.18,3.69,3.92]],[6.1,[3.92,3.51,3.72,3.3,4.09,3.62]],[6.49,[3.41,3.85,3.66,3.26,4.02,3.54,3.76]],
[6.9,[3.78,3.36,3.57,3.18,3.94,3.47]],[7.31,[3.29,3.71,3.52,3.12,3.86,3.41,3.62]],[7.69,[3.64,3.23,3.45,3.06,3.79,3.35]],
[8.1,[3.17,3.58,3.39,3.01,3.72,3.28,3.49]],[8.51,[3.52,3.12,3.33,2.95,3.66,3.23]],[8.9,[3.06,3.46,3.27,2.9,3.6,3.17,3.39]],
[9.31,[3.41,3.02,3.23,2.85,3.55,3.12]],[9.72,[2.96,3.37,3.18,2.81,3.5,3.08,3.29]],[10.11,[3.31,2.93,3.13,2.77,3.44,3.03]],
[10.5,[2.88,3.27,3.09,2.72,3.4,2.99,3.19]],[10.9,[3.22,2.85,3.05,2.69,3.36,2.96]],[11.31,[2.81,3.19,3.01,2.66,3.31,2.92,3.11]],
[11.7,[3.14,2.78,2.97,2.63,3.27,2.88]],[12.1,[2.74,3.11,2.93,2.59,3.22,2.85,3.04]],[12.49,[3.06,2.71,2.9,2.56,3.19,2.82]],
[12.9,[2.68,3.03,2.87,2.53,3.16,2.78,2.96]],[13.3,[2.99,2.66,2.84,2.5,3.12,2.75]],[13.71,[2.62,2.97,2.81,2.47,3.09,2.72,2.9]],
[14.1,[2.93,2.59,2.78,2.45,3.06,2.69]],[14.51,[2.57,2.91,2.75,2.43,3.03,2.67,2.84]],[14.9,[2.88,2.55,2.72,2.4,3.0,2.64]],
[15.3,[2.52,2.86,2.7,2.38,2.98,2.62,2.79]],[15.71,[2.83,2.5,2.67,2.36,2.95,2.6]],[16.1,[2.48,2.81,2.65,2.34,2.93,2.57,2.74]],
[16.49,[2.79,2.46,2.63,2.32,2.91,2.55]],[16.9,[2.44,2.77,2.61,2.3,2.89,2.53,2.7]],[17.31,[2.76,2.43,2.6,2.29,2.88,2.52]],
[17.7,[2.42,2.75,2.59,2.28,2.87,2.51,2.68]],[18.1,[2.74,2.41,2.58,2.27,2.86,2.5]],[18.51,[2.4,2.73,2.57,2.26,2.85,2.49,2.66]],
[18.9,[2.73,2.4,2.57,2.26,2.85,2.49]],[19.3,[2.4,2.73,2.57,2.26,2.85,2.49,2.66]],[19.69,[2.74,2.41,2.58,2.27,2.86,2.5]],
[20.1,[2.42,2.75,2.59,2.28,2.87,2.51,2.68]],[20.5,[2.77,2.43,2.61,2.29,2.89,2.53]],[20.9,[2.45,2.79,2.63,2.31,2.92,2.55,2.71]],
[21.31,[2.82,2.48,2.66,2.33,2.95,2.58]],[21.7,[2.51,2.86,2.69,2.36,2.99,2.61,2.76]],[22.1,[2.9,2.54,2.73,2.39,3.04,2.64]],
[22.5,[2.58,2.95,2.78,2.42,3.1,2.69,2.86]],[22.9,[3.02,2.63,2.84,2.46,3.18,2.74]],[23.3,[2.69,3.1,2.91,2.5,3.27,2.8,3.0]],
[23.7,[3.19,2.75,2.99,2.55,3.37,2.87]],[24.1,[2.83,3.29,3.08,2.61,3.48,2.95,3.17]],[24.51,[3.4,2.91,3.18,2.67,3.61,3.05]],
[24.9,[3.01,3.52,3.29,2.74,3.75,3.15,3.38]],[25.3,[3.65,3.11,3.41,2.83,3.9,3.26]],[25.7,[3.2,3.71,3.47,2.93,3.96,3.33,3.58]],
[26.1,[3.87,3.32,3.62,3.05,4.13,3.48]],[26.5,[3.47,4.02,3.77,3.19,4.27,3.63,3.89]],[26.9,[4.18,3.62,3.92,3.35,4.42,3.78]],
[27.3,[3.77,4.33,4.07,3.5,4.57,3.93,4.2]],[27.7,[4.48,3.92,4.22,3.66,4.72,4.08]],[28.1,[4.08,4.64,4.38,3.81,4.87,4.24,4.51]],
[28.5,[4.8,4.24,4.54,3.97,5.02,4.39]],[28.9,[4.39,4.95,4.69,4.12,5.17,4.55,4.82]],[29.3,[5.09,4.54,4.84,4.28,5.3,4.7]],
[29.7,[4.68,5.23,4.98,4.43,5.43,4.84,5.11]],[30.1,[5.37,4.83,5.12,4.58,5.56,4.98]],[30.5,[4.96,5.5,5.25,4.72,5.68,5.11,5.37]],
[30.9,[5.62,5.09,5.38,4.87,5.79,5.24]],[31.3,[5.22,5.74,5.5,5.01,5.9,5.36,5.62]],[31.7,[5.85,5.34,5.62,5.15,5.99,5.48]],
[32.1,[5.46,5.95,5.73,5.29,6.08,5.6]],[32.5,[6.04,5.57,5.84,5.41,5.71]],[32.9,[5.68,6.13,5.95,5.8]],[33.3,[6.21,5.79,6.05,6.33]],
[33.7,[5.92,6.28,6.14]],[34.1,[6.35,6.03,6.44]]
];
const tempColumnsC = [
[0.15,[4.41,5.36,4.78]],[0.62,[4.21,5.51]],[1.18,[4.02,5.29,4.49]],[1.74,[3.86,5.18]],[2.21,[3.68,4.98,5.31]],[2.83,[3.55,5.04]],
[3.38,[3.41,4.91,3.78]],[3.86,[3.5,5.07]],[4.44,[3.3,4.84,4.64]],[4.98,[3.19,4.71]],[5.62,[3.09,4.62,4.83]],[6.17,[3.0,4.51]],
[6.82,[2.91,4.31,4.62]],[7.35,[2.79,4.26]],[7.77,[2.7,4.09,3.83]],[8.45,[2.66,4.16]],[8.96,[2.55,3.96,3.78]],[9.62,[2.5,3.85]],
[10.18,[2.41,3.74,3.56]],[10.83,[2.36,3.69]],[11.38,[2.31,3.58,3.41]],[11.97,[2.29,3.49]],[12.55,[2.21,3.45,3.3]],[13.2,[2.19,3.39]],
[13.77,[2.16,3.33,3.52]],[14.42,[2.13,3.29]],[15.04,[2.11,3.24,3.44]],[15.68,[2.09,3.21]],[16.22,[2.08,3.18,3.37]],[16.83,[2.06,3.15]],
[17.36,[2.07,3.12,3.31]],[17.97,[2.05,3.1]],[18.55,[2.08,3.09,3.28]],[19.18,[2.06,3.11]],[19.73,[2.07,3.13,3.32]],[20.36,[2.05,3.14]],
[20.96,[2.08,3.18,3.4]],[21.61,[2.1,3.24]],[22.16,[2.13,3.31,3.52]],[22.78,[2.16,3.4]],[23.35,[2.19,3.53,3.71]],[23.98,[2.22,3.65]],
[24.57,[2.27,3.82,4.01]],[25.24,[2.31,4.03]],[25.81,[2.39,4.22,4.41]],[26.46,[2.49,4.44]],[27.02,[2.64,4.65,4.86]],[27.63,[2.83,4.88]],
[28.21,[3.04,5.1,5.3]],[28.84,[3.24,5.33]],[29.37,[3.48,5.52,5.71]],[29.98,[3.73,5.74]],[30.61,[4.02,5.92,6.08]],[31.23,[4.31,6.07]],
[31.82,[4.62,6.18]],[32.46,[4.9,6.29]]
];

// Smoothed temperature effect: [smoothed temperature, [loads...]]
const smoothColumns = [
[5.38,[4.99,3.84,4.46,4.12]],[5.62,[5.77,3.61,4.21,4.71,3.66,4.33]],[5.87,[5.31,4.52,4.01,3.59,4.29,3.31,4.83]],
[6.13,[5.23,4.62,4.11,3.76,4.38,3.27,3.92,4.54]],[6.41,[4.81,3.52,4.02,2.61,4.45,3.66,5.06]],[6.72,[5.57,4.91,4.39,3.96,3.57,4.16,3.22,4.67]],
[6.98,[5.66,5.02,4.56,4.14,3.72,3.41,4.31,2.86,4.02]],[7.27,[5.76,4.72,4.27,3.91,3.56,3.14,4.06,2.62,3.62]],[7.53,[4.86,4.41,4.01,3.62,3.26,2.91,2.52,3.81,4.61]],
[7.84,[6.04,5.46,4.61,4.16,3.76,3.41,3.02,2.71,4.46,3.57]],[8.11,[6.06,5.61,5.12,4.49,4.06,3.71,3.36,3.06,2.76,2.46,3.91]],
[8.42,[5.58,4.91,4.31,3.86,3.52,3.21,2.86,2.56,4.12,3.66]],[8.71,[5.56,5.41,4.56,4.03,3.69,3.34,3.04,2.74,2.44,3.86]],
[8.98,[5.26,4.89,4.29,3.84,3.49,3.19,2.84,2.54,2.31,4.06,3.61]],[9.27,[4.66,4.12,3.73,3.37,3.07,2.77,2.51,2.26,3.91,3.21]],
[9.56,[5.44,4.41,3.96,3.61,3.31,3.01,2.71,2.46,2.21,3.46,2.88]],[9.84,[5.14,4.28,3.81,3.51,3.21,2.91,2.61,2.41,2.16,4.36,3.06]],
[10.12,[4.63,4.02,3.66,3.36,3.06,2.79,2.53,2.33,2.68,3.18]],[10.43,[6.06,5.94,4.46,3.92,3.55,3.26,2.96,2.69,2.46,2.26,3.11]],
[10.71,[4.96,4.32,3.85,3.49,3.17,2.88,2.62,2.41,2.19,3.71,2.74]],[10.98,[4.61,4.11,3.72,3.38,3.08,2.81,2.57,2.36,2.16,2.97]],
[11.27,[5.14,4.41,3.91,3.56,3.24,2.94,2.67,2.44,2.22,3.39,2.78]],[11.56,[4.96,4.26,3.79,3.47,3.16,2.87,2.61,2.39,2.18,4.37,3.02]],
[11.84,[4.66,4.07,3.67,3.36,3.06,2.79,2.55,2.34,2.14,2.92]],[12.13,[4.99,4.41,3.91,3.54,3.23,2.93,2.68,2.46,2.24,3.38,2.81]],
[12.42,[4.56,4.08,3.69,3.39,3.09,2.82,2.58,2.37,2.16,2.97]],[12.71,[4.93,4.29,3.84,3.49,3.17,2.89,2.63,2.41,2.21,3.32,2.74]],
[12.98,[4.52,3.99,3.61,3.29,3.01,2.76,2.52,2.31,2.11,2.88]],[13.27,[5.09,4.39,3.89,3.51,3.19,2.91,2.66,2.44,2.22,3.36,2.78]],
[13.56,[4.21,3.76,3.41,3.11,2.83,2.58,2.36,2.16,2.97,2.69]],[13.84,[4.71,4.44,3.88,3.49,3.15,2.86,2.61,2.39,2.06,3.31,2.73]],
[14.13,[4.11,3.66,3.31,3.02,2.77,2.52,2.31,2.11,2.89,2.64]],[14.42,[4.26,3.79,3.44,3.12,2.86,2.61,2.39,2.19,2.97,2.49]],
[14.71,[4.46,3.61,3.26,2.96,2.71,2.49,2.29,2.14,3.09,2.81]],[14.98,[3.89,3.51,3.16,2.89,2.66,2.46,2.26,2.09,2.78,2.56]],
[15.27,[3.61,3.29,3.01,2.76,2.56,2.36,2.21,2.88,2.47]],[15.56,[3.74,3.41,3.11,2.86,2.61,2.46,2.31,2.96,2.71]],
[15.84,[3.51,3.21,2.96,2.71,2.51,2.36,2.21,2.81,2.62]],[16.13,[3.61,3.31,3.01,2.81,2.61,2.46,2.29,2.91,2.7]],
[16.42,[3.46,3.16,2.91,2.71,2.56,2.41,2.26,2.81,2.64]],[16.71,[3.96,3.51,3.21,2.96,2.76,2.61,2.46,2.31,3.06,2.86]],
[16.98,[3.41,3.11,2.91,2.71,2.56,2.41,2.29,2.82,2.64]],[17.27,[3.81,3.31,3.01,2.81,2.66,2.51,2.36,2.91,2.73]],
[17.56,[4.09,3.51,3.11,2.91,2.76,2.61,2.46,3.01,2.84]],[17.84,[3.61,3.21,2.96,2.81,2.66,2.51,2.39,2.88,2.74]],
[18.13,[4.31,3.81,3.41,3.11,2.91,2.76,2.61,2.49,3.01,2.84]],[18.42,[4.11,3.61,3.31,3.01,2.86,2.71,2.56,2.93,2.79]],
[18.71,[3.51,3.21,2.96,2.81,2.66,2.51,2.36,2.23,3.09,2.73]],[18.98,[3.71,3.36,3.06,2.86,2.71,2.56,2.41,2.29,2.96,2.64]],
[19.27,[3.46,3.16,2.91,2.76,2.61,2.46,2.33,2.86,2.68]],[19.56,[3.61,3.31,3.01,2.83,2.69,2.54,2.41,2.91,2.76]],
[19.84,[3.96,3.51,3.21,2.96,2.79,2.64,2.49,2.33,3.07,2.71]],[20.13,[3.41,3.11,2.91,2.76,2.61,2.49,2.36,2.83,2.68]],
[20.42,[3.79,3.31,3.03,2.86,2.71,2.56,2.43,2.96,2.79]],[20.71,[3.56,3.21,2.96,2.81,2.66,2.53,2.41,2.89,2.74]],
[20.98,[4.11,3.51,3.13,2.91,2.76,2.63,2.49,3.01,2.84]],[21.27,[3.81,3.41,3.09,2.89,2.76,2.61,2.51,2.96,2.83]],
[21.56,[4.21,3.66,3.26,2.97,2.83,2.69,2.56,3.06,2.89]],[21.84,[4.68,4.01,3.58,3.19,2.94,2.81,2.66,2.51,3.36,2.87]],
[22.13,[4.31,3.83,3.41,3.09,2.91,2.79,2.66,3.21,2.86]],[22.42,[4.06,3.61,3.29,3.01,2.88,2.76,2.61,3.14,2.84]],
[22.71,[4.41,3.91,3.49,3.13,2.93,2.81,2.69,2.56,3.31,2.87]],[22.98,[4.51,4.11,3.66,3.26,2.99,2.86,2.71,2.61,3.41,2.91]],
[23.27,[5.34,4.41,3.86,3.47,3.12,2.91,2.76,2.63,3.66,2.84]],[23.56,[4.56,4.02,3.61,3.26,3.01,2.86,2.71,3.41,2.93]],
[23.84,[5.22,4.66,4.12,3.72,3.33,3.03,2.83,2.66,3.51,2.91]],[24.13,[5.98,4.81,4.29,3.86,3.46,3.11,2.86,2.39,3.66,2.97]],
[24.42,[5.41,4.52,4.06,3.61,3.26,2.96,2.76,2.36,3.81,3.11]],[24.71,[6.02,5.09,4.51,4.01,3.59,3.23,2.93,2.73,3.79,3.36]],
[24.98,[5.16,4.66,4.21,3.77,3.36,3.01,2.79,2.33,3.96,2.91]],[25.27,[5.96,5.31,4.71,4.21,3.76,3.36,3.01,2.81,4.46,3.56]],
[25.56,[5.01,4.51,4.06,3.66,3.29,2.96,2.76,3.86,3.13]],[25.84,[5.51,4.89,4.39,3.91,3.49,3.11,2.86,4.16,3.69]],
[26.13,[5.61,4.99,4.51,4.06,3.61,3.21,2.91,2.71,4.29,3.81]],[26.42,[5.26,4.76,4.31,3.86,3.46,3.09,2.81,4.06,3.66]],
[26.71,[5.41,4.86,4.36,3.91,3.46,3.06,2.76,5.11,4.13,3.69]],[26.98,[5.71,5.13,4.63,4.16,3.71,3.31,2.96,4.41,3.91]],
[27.27,[5.76,5.21,4.71,4.26,3.81,3.36,3.01,2.81,4.49,4.01]],[27.56,[5.51,5.01,4.56,4.11,3.69,3.29,2.93,4.33,3.89,4.79]],
[27.84,[5.61,5.11,4.61,4.16,3.71,3.31,2.96,2.56,5.31,4.39,3.91]],[28.13,[5.86,5.36,4.86,4.41,3.96,3.56,3.16,2.86,5.11,4.63,4.19]],
[28.42,[6.11,5.51,5.01,4.51,4.11,3.71,3.36,3.01,4.81,5.21,4.31,4.71]],[28.71,[5.91,5.41,4.96,4.56,4.16,3.79,3.41,3.09,4.76,5.16,4.36,4.61]],
[28.98,[6.21,5.61,5.11,4.66,4.26,3.86,3.51,3.16,4.91,5.36,4.41,4.81]],[29.27,[5.81,5.31,4.86,4.46,4.06,3.69,3.31,5.06,4.63,5.51,4.26]],
[29.56,[6.51,5.91,5.41,4.91,4.46,4.06,3.71,3.31,2.42,5.16,4.71,5.66]],[29.84,[6.36,5.81,5.31,4.86,4.41,4.01,3.61,5.56,5.06,4.61,6.06]],
[30.13,[6.26,5.71,5.21,4.76,4.31,3.91,5.46,4.96,4.51,5.91]],[30.42,[6.39,6.01,5.51,5.01,4.56,4.11,5.26,4.76,5.76]],
[30.71,[6.55,6.11,5.61,5.11,4.66,5.36,4.86]],[30.98,[6.31,5.86,5.41,4.96,5.61]]
];
const smoothColumnsB = [
[5.5,[4.27,3.58,4.71,3.95]],[5.75,[3.88,4.52,3.36,4.12,4.93]],[6.0,[4.38,3.69,4.81,3.21,3.99]],[6.27,[3.47,4.63,3.87,4.22,3.12,5.02]],
[6.56,[4.12,3.41,4.76,3.83,2.99]],[6.85,[3.66,4.43,3.18,4.06,4.88,3.49]],[7.12,[4.29,3.37,3.88,4.67,2.82]],[7.41,[3.58,4.51,3.08,3.95,4.24]],
[7.68,[3.93,3.14,4.36,3.52,2.74]],[7.98,[3.32,4.18,2.97,3.71,4.53]],[8.27,[3.86,3.05,3.49,2.63,4.27,2.88]],[8.56,[3.21,3.67,2.71,4.02,2.95,3.44]],
[8.85,[2.79,3.58,3.12,2.51,3.86,3.33]],[9.13,[3.46,2.64,3.16,2.92,3.72,2.41]],[9.41,[2.86,3.29,2.55,3.61,2.36,3.04]],[9.7,[3.24,2.49,2.97,3.53,2.71,2.29]],
[9.98,[2.66,3.13,2.42,3.39,2.91,3.71]],[10.27,[3.02,2.38,2.78,3.49,2.57,3.24]],[10.56,[2.51,2.94,3.31,2.27,2.73,3.62]],[10.85,[2.87,2.34,3.16,2.59,3.41,2.21]],
[11.13,[2.42,2.81,3.24,2.63,2.99,3.55]],[11.42,[2.76,2.28,3.07,2.53,3.38,2.86]],[11.7,[2.39,2.71,3.19,2.95,2.52,3.47]],[11.98,[2.67,2.24,2.91,3.29,2.46,3.06]],
[12.27,[2.33,2.83,2.61,3.14,2.19,3.41]],[12.56,[2.61,2.22,3.02,2.47,2.79,3.26]],[12.85,[2.29,2.72,2.51,3.09,2.38,2.94]],[13.13,[2.56,2.18,2.86,2.39,3.21,2.66]],
[13.42,[2.25,2.63,2.44,2.97,2.16,3.31]],[13.7,[2.53,2.33,2.79,2.14,3.04,2.61]],[13.98,[2.21,2.49,2.71,2.36,2.93,3.19]],[14.27,[2.47,2.13,2.64,2.31,2.87,3.12]],
[14.56,[2.26,2.56,2.09,2.78,2.41,3.03]],[14.85,[2.44,2.19,2.69,2.33,2.96,2.58]],[15.13,[2.28,2.52,2.12,2.75,2.39,3.08]],[15.42,[2.49,2.23,2.66,2.36,2.89,2.17]],
[15.7,[2.31,2.58,2.15,2.81,2.44,3.14]],[15.98,[2.51,2.24,2.72,2.38,2.99,2.62]],[16.27,[2.34,2.82,2.48,2.19,2.61,3.08]],[16.56,[2.58,2.27,2.91,2.41,2.16,2.73]],
[16.85,[2.44,2.69,2.23,3.03,2.52,2.36]],[17.13,[2.63,2.31,2.87,2.47,2.19,3.18]],[17.42,[2.29,2.55,2.96,2.39,2.74,2.21]],[17.7,[2.52,2.79,2.35,2.61,2.26,3.07]],
[17.98,[2.38,2.66,2.49,2.93,2.27,3.24]],[18.27,[2.71,2.43,2.57,2.31,2.99,2.52]],[18.56,[2.46,2.62,2.84,2.34,2.55,3.13]],[18.85,[2.59,2.37,2.79,2.48,2.95,2.3]],
[19.13,[2.42,2.68,2.53,3.04,2.36,2.61]],[19.42,[2.66,2.45,2.86,2.57,2.33,3.21]],[19.7,[2.51,2.74,2.39,2.96,2.62,2.47]],[19.98,[2.74,2.49,2.63,2.36,3.06,2.57]],
[20.27,[2.55,2.81,2.44,2.67,3.11,2.4]],[20.56,[2.69,2.52,2.93,2.43,2.61,3.27]],[20.85,[2.58,2.84,2.47,3.02,2.66,2.5]],[21.13,[2.77,2.56,2.94,2.49,2.71,3.17]],
[21.42,[2.64,2.88,2.53,2.76,3.09,2.58]],[21.7,[2.81,2.61,2.99,2.55,2.73,3.28]],[21.98,[2.69,2.92,2.58,2.82,3.13,2.63]],[22.27,[2.86,2.66,3.04,2.74,2.57,3.36]],
[22.56,[2.73,2.95,2.62,2.84,3.18,2.79]],[22.85,[2.88,2.71,3.07,2.8,2.64,3.44]],[23.13,[2.78,2.97,2.68,2.86,3.26,2.83]],[23.42,[2.91,2.75,3.12,2.83,2.69,3.52]],
[23.7,[2.81,2.99,2.72,2.89,3.33,2.86]],[23.98,[2.94,2.79,3.17,2.86,2.66,3.61]],[24.27,[2.84,3.04,2.76,2.91,3.41,2.58]],[24.56,[2.97,2.82,3.24,2.89,2.71,3.72]],
[24.85,[2.87,3.09,2.79,2.94,3.51,2.62]],[25.13,[3.0,2.85,3.31,2.92,2.74,3.85]],[25.42,[2.9,3.15,2.82,2.97,3.58,4.02]],[25.7,[2.93,3.38,3.06,4.21,2.79,3.71]],
[25.99,[3.12,2.87,3.54,4.36,3.28,2.98]],[26.28,[2.91,3.46,3.74,4.57,3.19,4.02]],
[26.56,[3.45,4.21,3.82,4.63,3.16,4.05]],[26.85,[4.38,3.69,4.92,3.95,3.31,4.49]],[27.13,[3.86,4.57,4.15,5.05,3.52,4.33]],[27.42,[4.72,3.98,4.41,3.63,5.18,4.24]],
[27.7,[4.06,4.83,3.74,4.52,5.29,4.31,3.47]],[27.98,[4.94,4.22,3.88,4.67,5.41,4.45,3.61]],[28.27,[4.36,5.08,4.02,4.77,5.55,3.75,4.58]],
[28.56,[5.22,4.51,3.92,4.88,5.67,4.27,5.02]],[28.85,[4.62,5.35,4.13,5.04,5.79,3.86,4.79]],[29.13,[5.47,4.74,4.21,5.16,5.92,4.48,5.28,3.97]],
[29.42,[4.86,5.58,4.33,5.24,6.02,4.07,5.11]],[29.7,[5.71,4.97,4.46,5.38,6.13,4.71,5.21,3.92]],[29.98,[5.07,5.82,4.55,5.49,6.21,4.24,5.31]],
[30.27,[5.91,5.18,4.64,5.62,6.31,4.85,5.41]],[30.56,[5.29,6.04,4.78,5.72,4.41,5.51]],[30.85,[6.16,5.39,4.92,5.81,5.61]]
];
const smoothColumnsC = [
[28.05,[4.47,5.03,3.87,5.46]],[28.34,[4.68,3.96,5.27,4.14]],[28.63,[5.12,4.39,5.58,3.69]],[28.92,[4.54,5.21,4.02,5.71]],
[29.2,[5.34,4.63,3.81,5.02]],[29.49,[4.79,5.44,4.18,5.86]],[29.77,[5.52,4.88,4.29,6.02]],[30.05,[4.96,5.63,4.38,5.23]],
[30.34,[5.71,5.04,4.49,6.12]],[30.63,[5.16,5.83,4.61,5.47]],[30.92,[5.97,5.28,4.73,6.22]]
];

// Tick positions and labels
const loadMajor = [2,3,4,5,6];
const loadMinor = [2.5,3.5,4.5,5.5,6.5];
const yearMajor = [2005,2006,2007,2008,2009,2010,2011,2012];
const yearMinor = [2005.5,2006.5,2007.5,2008.5,2009.5,2010.5,2011.5];
const monthTickDays = [1,60,121,182,244,305];
const monthTickLabels = ['Jan','Mar','May','Jul','Sep','Nov'];
const monthMinorDays = [32,91,152,213,274,335];
const weekTicks = [0,1,2,3,4,5,6];
const lagMajor = [2,3,4,5,6];
const lagMinor = [2.5,3.5,4.5,5.5,6.5];
const tempMajor = [0,10,20,30];
const tempMinor = [-5,5,15,25,35];
const smoothMajor = [10,20,30];
const smoothMinor = [5,15,25];

// ---------------- CHART ----------------
const FONT = '"Liberation Sans", Arial, Helvetica, sans-serif';
const Y_MIN = 1.824, Y_MAX = 6.796;
const flatten = (...lists) => { const out=[]; lists.forEach(cols => cols.forEach(c => c[1].forEach(v => out.push([c[0], v])))); return out; };
const trendPoints = [];
trendLow.forEach((lo, k) => {
  trendPoints.push([trendStartYear + (k*trendStepDays)/365.25, lo]);
  trendPoints.push([trendStartYear + (k*trendStepDays + trendStepDays/2)/365.25, trendHigh[k]]);
});

const panels = [
 {title:'Trend effect', left:46.7, top:36.9, width:344, titleTop:8, xName:'Time', xMin:2004.648, xMax:2012.22, xMajor:yearMajor, xMinor:yearMinor, fmt:v=>String(v)},
 {title:'Yearly cycle', left:442.7, top:36.9, width:344, titleTop:8, xName:'Day of the year', xMin:-15.7, xMax:351.7, xMajor:monthTickDays, xMinor:monthMinorDays, fmt:v=>monthTickLabels[monthTickDays.indexOf(v)]},
 {title:'Weekly cycle', left:838.3, top:36.9, width:350, titleTop:8, xName:'Day of the week', xMin:-0.6, xMax:6.6, xMajor:weekTicks, xMinor:[], fmt:v=>weekDays[v]},
 {title:'Autoregressive effect', left:46.7, top:333.2, width:344, titleTop:304, xName:'Lagged load', xMin:1.824, xMax:6.77, xMajor:lagMajor, xMinor:lagMinor, fmt:v=>String(v)},
 {title:'Temperature effect', left:442.7, top:333.2, width:344, titleTop:304, xName:'Temperature', xMin:-6.06, xMax:38.67, xMajor:tempMajor, xMinor:tempMinor, fmt:v=>String(v)},
 {title:'Smoothed temperature effect', left:838.3, top:333.2, width:348, titleTop:304, xName:'Smoothed temperature', xMin:4.11, xMax:32.4, xMajor:smoothMajor, xMinor:smoothMinor, fmt:v=>String(v)}
];

const grids=[], xAxes=[], yAxes=[], titles=[];
const tickLabel = {color:'#4D4D4D', fontSize:12.5, fontFamily:FONT};
const nameStyle = {color:'#000', fontSize:18, fontFamily:FONT};
const noLine = {show:false, onZero:false};
panels.forEach((p,i) => {
  grids.push({left:p.left, top:p.top, width:p.width, height:213, show:true, borderColor:'#333', borderWidth:1, backgroundColor:'#fff', containLabel:false, outerBoundsMode:'none'});
  titles.push({text:p.title, left:p.left, top:p.titleTop, padding:0, textStyle:{fontSize:21, fontWeight:'normal', color:'#000', fontFamily:FONT}});
  xAxes.push({gridIndex:i, type:'value', min:p.xMin, max:p.xMax, axisLine:noLine, axisTick:{show:false, customValues:p.xMinor}, axisLabel:{show:false, customValues:p.xMinor}, splitLine:{show:p.xMinor.length>0, lineStyle:{color:'#EBEBEB', width:0.7}}, z:0});
  yAxes.push({gridIndex:i, type:'value', min:Y_MIN, max:Y_MAX, axisLine:noLine, axisTick:{show:false, customValues:loadMinor}, axisLabel:{show:false, customValues:loadMinor}, splitLine:{show:true, lineStyle:{color:'#EBEBEB', width:0.7}}, z:0});
  xAxes.push({gridIndex:i, type:'value', position:'bottom', min:p.xMin, max:p.xMax,
    axisLine:noLine, axisTick:{show:true, length:3, lineStyle:{color:'#333', width:1}, customValues:p.xMajor},
    axisLabel:Object.assign({customValues:p.xMajor, formatter:p.fmt, margin:6, hideOverlap:false}, tickLabel),
    splitLine:{show:true, lineStyle:{color:'#EBEBEB', width:1.3}},
    name:p.xName, nameLocation:'middle', nameGap:21, nameTextStyle:nameStyle, z:1});
  yAxes.push({gridIndex:i, type:'value', position:'left', min:Y_MIN, max:Y_MAX,
    axisLine:noLine, axisTick:{show:true, length:3, lineStyle:{color:'#333', width:1}, customValues:loadMajor},
    axisLabel:Object.assign({customValues:loadMajor, formatter:v=>String(v), margin:5, hideOverlap:false}, tickLabel),
    splitLine:{show:true, lineStyle:{color:'#EBEBEB', width:1.3}},
    name:'Power load', nameLocation:'middle', nameGap:17, nameTextStyle:nameStyle, z:1});
});
const ax = i => ({xAxisIndex:2*i+1, yAxisIndex:2*i+1});
const pointStyle = {symbol:'circle', symbolSize:8, itemStyle:{color:'rgba(0,0,0,0.44)'}, silent:true, large:false, progressive:0};

const series = [
  Object.assign({type:'line', data: trendPoints, showSymbol:false, lineStyle:{color:'#333', width:1.4}, silent:true}, ax(0)),
  Object.assign({type:'scatter', data: flatten(yearlyColumns, yearlyColumnsB)}, pointStyle, ax(1)),
  Object.assign({type:'custom', data: weekDays.map((d,k)=>[k, boxMin[k], boxQ1[k], boxMedian[k], boxQ3[k], boxMax[k]]),
    encode:{x:0, y:[1,2,3,4,5]}, silent:true,
    renderItem:(params, api) => {
      const k = api.value(0);
      const c = v => api.coord([k, v]);
      const cx = c(api.value(3))[0];
      const xl = api.coord([k-0.38, 3])[0], xr = api.coord([k+0.38, 3])[0];
      const yLo=c(api.value(1))[1], yQ1=c(api.value(2))[1], yMd=c(api.value(3))[1], yQ3=c(api.value(4))[1], yHi=c(api.value(5))[1];
      const st = {stroke:'#333', lineWidth:1};
      return {type:'group', children:[
        {type:'line', shape:{x1:cx,y1:yQ1,x2:cx,y2:yLo}, style:st},
        {type:'line', shape:{x1:cx,y1:yQ3,x2:cx,y2:yHi}, style:st},
        {type:'rect', shape:{x:xl,y:yQ3,width:xr-xl,height:yQ1-yQ3}, style:{fill:'#9a9a9a', stroke:'#333', lineWidth:1.2}},
        {type:'line', shape:{x1:xl,y1:yMd,x2:xr,y2:yMd}, style:{stroke:'#333', lineWidth:2.6}}
      ]};
    }}, ax(2)),
  Object.assign({type:'scatter', data: flatten(arColumns, arColumnsB)}, pointStyle, ax(3)),
  Object.assign({type:'scatter', data: flatten(tempColumns, tempColumnsB, tempColumnsC)}, pointStyle, ax(4)),
  Object.assign({type:'scatter', data: flatten(smoothColumns, smoothColumnsB, smoothColumnsC)}, pointStyle, ax(5))
];

const chart = echarts.init(document.getElementById('c'), null, {renderer:'canvas'});
chart.setOption({animation:false, backgroundColor:'#fff', title:titles, grid:grids, xAxis:xAxes, yAxis:yAxes, series:series});
</script></body></html>
